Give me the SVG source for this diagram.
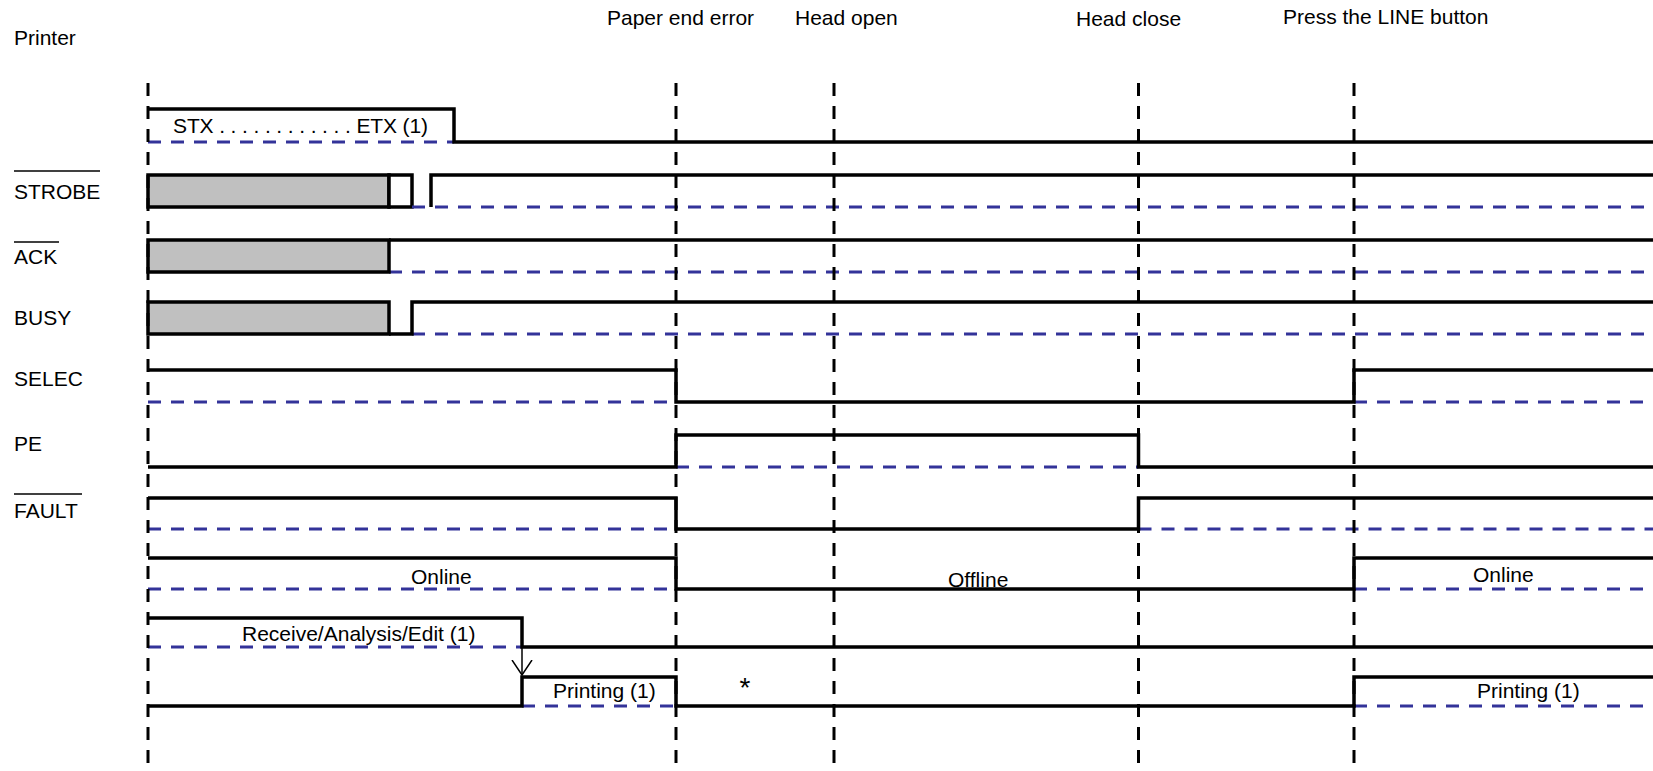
<svg xmlns="http://www.w3.org/2000/svg" width="1653" height="771" viewBox="0 0 1653 771">
<style>
text{font-family:"Liberation Sans",Arial,sans-serif;font-size:21px;fill:#000}
.sig{fill:none;stroke:#000;stroke-width:3.5;stroke-linejoin:miter}
.box{fill:#c0c0c0;stroke:#000;stroke-width:3.5}
.wbox{fill:#fff;stroke:#000;stroke-width:3.5}
.base{fill:none;stroke:#333399;stroke-width:3;stroke-dasharray:13 10}
.evt{fill:none;stroke:#000;stroke-width:3;stroke-dasharray:13 10}
.ovl{stroke:#000;stroke-width:1.6}
</style>
<defs>
<marker id="open" markerUnits="userSpaceOnUse" viewBox="0 0 16 22" markerWidth="16" markerHeight="22" refX="15" refY="11" orient="auto">
<path d="M0,1 L15,11 L0,21" fill="none" stroke="#000" stroke-width="1.5"/>
</marker>
</defs>
<rect width="1653" height="771" fill="#fff"/>
<g id="labels">
<text x="14" y="45">Printer</text>
<text x="607" y="25">Paper end error</text>
<text x="795" y="25">Head open</text>
<text x="1076" y="26">Head close</text>
<text x="1283" y="24">Press the LINE button</text>
</g>
<g id="sig-data">
<path class="base" d="M148,142 H454"/>
<path class="sig" d="M148,109 H454 V142 H1653"/>
<text x="173" y="133" textLength="255" lengthAdjust="spacing">STX . . . . . . . . . . . . ETX (1)</text>
</g>
<g id="sig-strobe">
<text x="14" y="199">STROBE</text>
<line class="ovl" x1="14" y1="171" x2="100" y2="171"/>
<rect class="box" x="148" y="175" width="241" height="32"/>
<rect class="wbox" x="389" y="175" width="23" height="32"/>
<path class="base" d="M412,207 H1653"/>
<path class="sig" d="M431,207 V175 H1653"/>
</g>
<g id="sig-ack">
<text x="14" y="264">ACK</text>
<line class="ovl" x1="14" y1="242" x2="59" y2="242"/>
<path class="base" d="M389,272 H1653"/>
<rect class="box" x="148" y="240" width="241" height="32"/>
<path class="sig" d="M389,240 H1653"/>
</g>
<g id="sig-busy">
<text x="14" y="325">BUSY</text>
<path class="base" d="M412,334 H1653"/>
<rect class="box" x="148" y="302" width="241" height="32"/>
<path class="sig" d="M389,334 H412 V302 H1653"/>
</g>
<g id="sig-selec">
<text x="14" y="386">SELEC</text>
<path class="base" d="M148,402 H676 M1354,402 H1653"/>
<path class="sig" d="M148,370 H676 V402 H1354 V370 H1653"/>
</g>
<g id="sig-pe">
<text x="14" y="451">PE</text>
<path class="base" d="M676,467 H1138.5"/>
<path class="sig" d="M148,467 H676 V435 H1138.5 V467 H1653"/>
</g>
<g id="sig-fault">
<text x="14" y="518">FAULT</text>
<line class="ovl" x1="14" y1="494" x2="82" y2="494"/>
<path class="base" d="M148,529 H676 M1138.5,529 H1653"/>
<path class="sig" d="M148,498 H676 V529 H1138.5 V498 H1653"/>
</g>
<g id="state-online">
<path class="base" d="M148,589 H676 M1354,589 H1653"/>
<path class="sig" d="M148,558 H676 V589 H1354 V558 H1653"/>
<text x="411" y="584">Online</text>
<text x="948" y="587">Offline</text>
<text x="1473" y="582">Online</text>
</g>
<g id="state-receive">
<path class="base" d="M148,647 H522"/>
<path class="sig" d="M148,618 H522 V647 H1653"/>
<text x="242" y="641">Receive/Analysis/Edit (1)</text>
</g>
<g id="state-printing">
<path class="base" d="M522,706 H676 M1354,706 H1653"/>
<path class="sig" d="M148,706 H522 V677 H676 V706 H1354 V677 H1653"/>
<text x="553" y="698">Printing (1)</text>
<text x="739.5" y="697" style="font-size:28px">*</text>
<text x="1477" y="698">Printing (1)</text>
</g>
<g id="events">
<line class="evt" x1="148" y1="83" x2="148" y2="771"/>
<line class="evt" x1="676" y1="83" x2="676" y2="771"/>
<line class="evt" x1="834" y1="83" x2="834" y2="771"/>
<line class="evt" x1="1138.5" y1="83" x2="1138.5" y2="771"/>
<line class="evt" x1="1354" y1="83" x2="1354" y2="771"/>
</g>
<g id="connectors">
<line x1="522" y1="648" x2="522" y2="675" stroke="#000" stroke-width="1.5" marker-end="url(#open)"/>
</g>
</svg>
